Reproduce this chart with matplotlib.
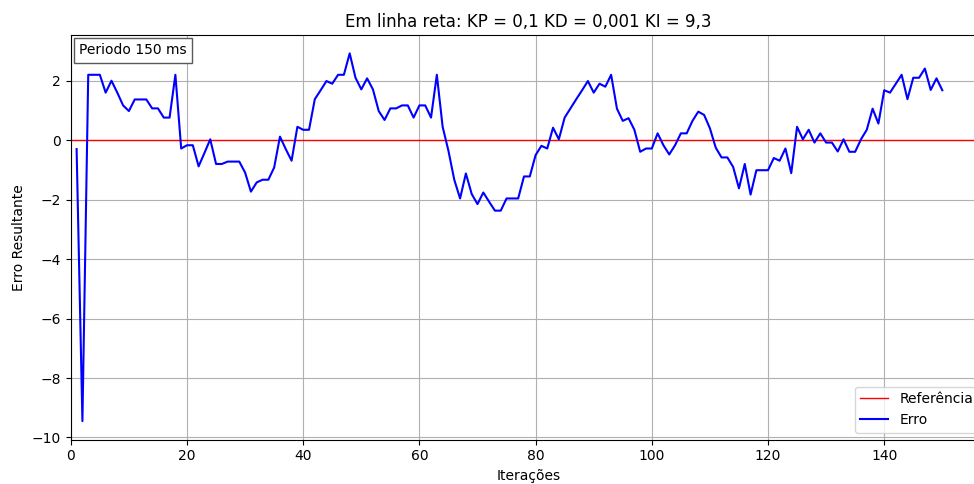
import matplotlib
matplotlib.use("Agg")
import matplotlib.pyplot as plt
from matplotlib.offsetbox import AnchoredText

erro = [-0.3, -9.45, 2.2, 2.2, 2.2, 1.6, 2.0, 1.6, 1.17, 0.98,
        1.37, 1.37, 1.37, 1.07, 1.07, 0.76, 0.76, 2.2, -0.28, -0.17,
        -0.17, -0.88, -0.43, 0.03, -0.8, -0.8, -0.72, -0.72, -0.72, -1.09,
        -1.73, -1.42, -1.33, -1.33, -0.92, 0.12, -0.3, -0.69, 0.45, 0.35,
        0.35, 1.38, 1.68, 1.99, 1.9, 2.2, 2.2, 2.92, 2.1, 1.71,
        2.08, 1.71, 0.98, 0.68, 1.07, 1.07, 1.17, 1.17, 0.76, 1.17,
        1.17, 0.76, 2.2, 0.45, -0.36, -1.33, -1.96, -1.12, -1.81, -2.15,
        -1.76, -2.07, -2.37, -2.37, -1.96, -1.96, -1.96, -1.22, -1.22, -0.5,
        -0.19, -0.28, 0.42, 0.03, 0.76, 1.07, 1.38, 1.68, 1.99, 1.6,
        1.9, 1.8, 2.2, 1.06, 0.65, 0.74, 0.35, -0.39, -0.28, -0.28,
        0.23, -0.17, -0.48, -0.17, 0.23, 0.23, 0.65, 0.96, 0.85, 0.4,
        -0.25, -0.58, -0.58, -0.9, -1.62, -0.8, -1.83, -1.01, -1.01, -1.01,
        -0.6, -0.69, -0.28, -1.11, 0.45, 0.03, 0.35, -0.08, 0.23, -0.08,
        -0.08, -0.38, 0.03, -0.39, -0.39, 0.03, 0.35, 1.06, 0.56, 1.68,
        1.6, 1.9, 2.2, 1.38, 2.1, 2.1, 2.41, 1.69, 2.08, 1.68]
iteracoes = list(range(1, len(erro) + 1))
referencia = 0

fig = plt.figure(figsize=(9.74, 4.84), dpi=100)
# the original figure is cut on the right side, so the axes run past the edge
ax = fig.add_axes([70.8 / 974, 44.5 / 484, 914.8 / 974, 404.5 / 484])

ax.axhline(referencia, color='red', linewidth=1, label='Referência')
ax.plot(iteracoes, erro, color='blue', linewidth=1.5, label='Erro')

ax.set_xlim(left=0)
ax.set_title("Em linha reta: KP = 0,1 KD = 0,001 KI = 9,3", fontsize=12)
ax.set_xlabel("Iterações")
ax.set_ylabel("Erro Resultante")
ax.grid(True)

# Caixa com o periodo
caixa = AnchoredText("Periodo 150 ms", loc='upper left', prop=dict(size=10),
                     borderpad=0.2, pad=0.4)
caixa.patch.set_edgecolor('0.35')
ax.add_artist(caixa)

ax.legend(loc='lower right')

plt.savefig('out.png', dpi=100)
